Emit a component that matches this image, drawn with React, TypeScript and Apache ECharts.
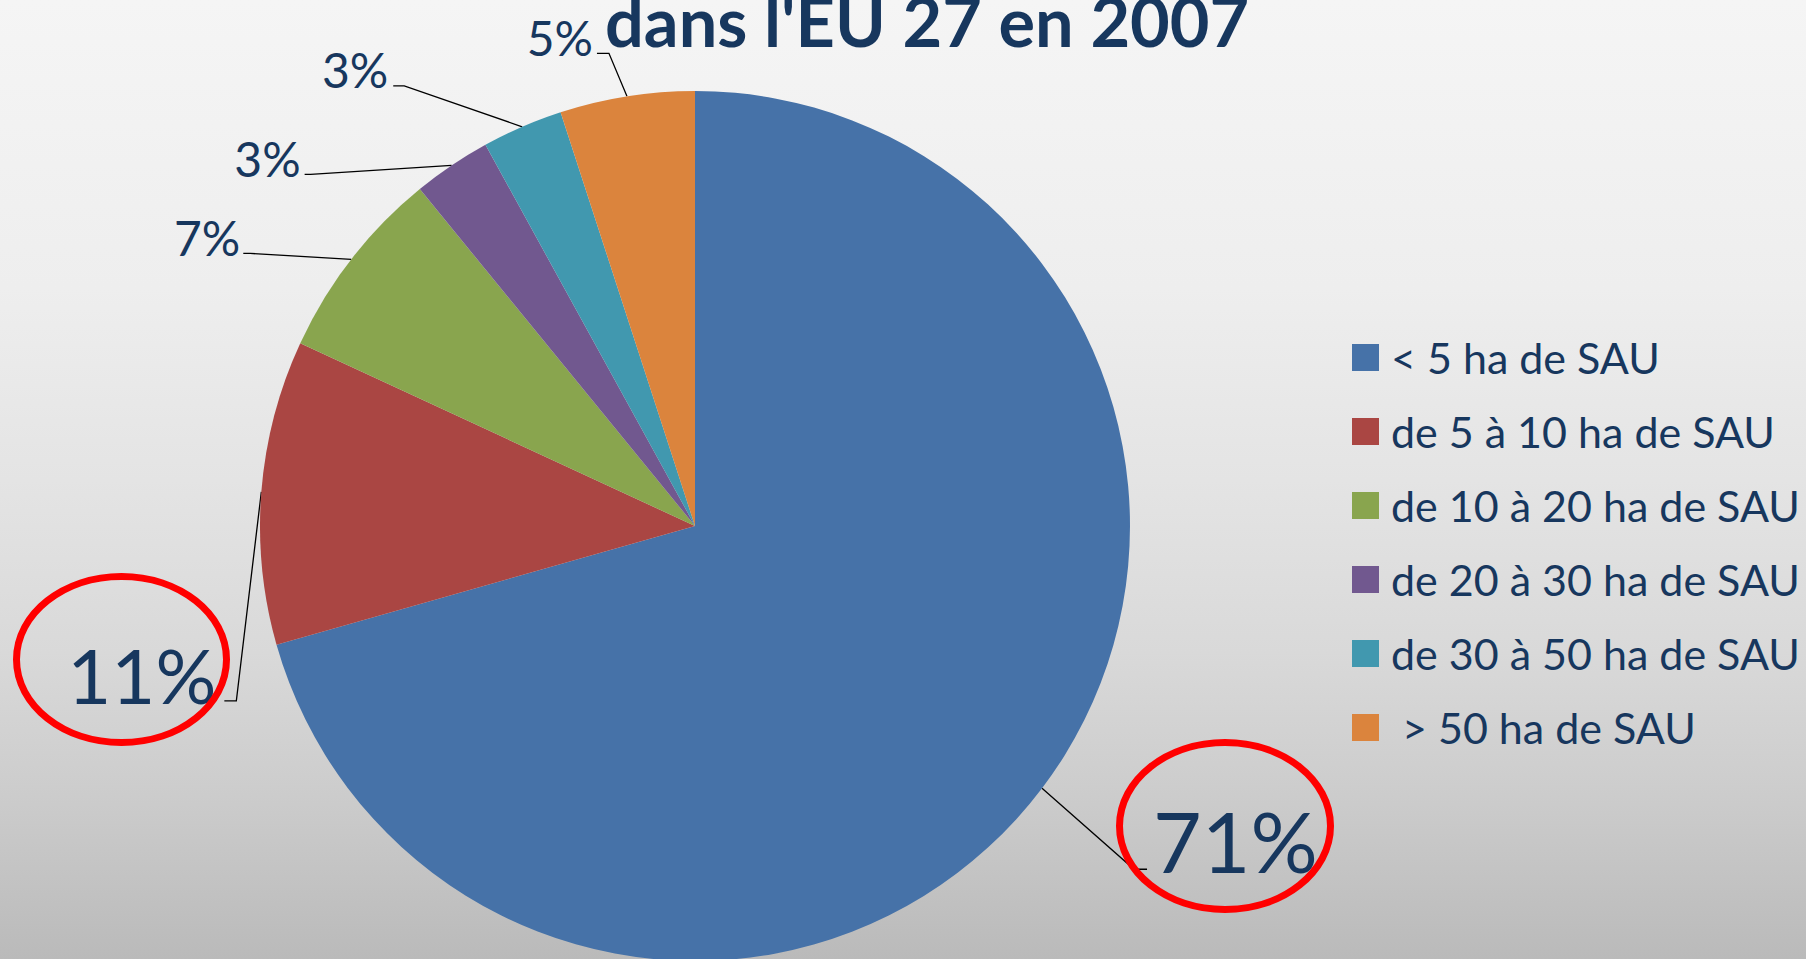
import React, { useEffect, useRef } from 'react';
import * as echarts from 'echarts';

// ---- data ----
const categories = [
  '< 5 ha de SAU',
  'de 5 à 10 ha de SAU',
  'de 10 à 20 ha de SAU',
  'de 20 à 30 ha de SAU',
  'de 30 à 50 ha de SAU',
  ' > 50 ha de SAU',
];
const shares = [70.6, 11.3, 7.2, 2.9, 3.0, 5.0];
const titleText = "dans l'EU 27 en 2007";

// ---- styles ----
const sliceColors = ['#4672A8', '#AA4643', '#89A54E', '#71588F', '#4198AF', '#DB843D'];
const labelFontSizes = [84, 76, 48, 48, 48, 48];
// leader line geometry, relative to the anchor ECharts computes on the slice edge
const leaderKnee = [[92, 81], [-25, 209], [-101, -6], [-141, 9], [-118, -41], [-18, -43]];
const leaderTail = [13, -12, -7, -6, -11, -12];
const labelGap = [6, 8, 3, 4, 5, 4];
const TEXT = '#17375E';
const FONT = 'Lato';

export default function App() {
  const ref = useRef<HTMLDivElement>(null);
  useEffect(() => {
    if (!ref.current) return;
    const chart = echarts.init(ref.current, null, { renderer: 'svg' });
    const data = categories.map((name, i) => ({
      name,
      value: shares[i],
      itemStyle: { color: sliceColors[i] },
      label: { fontSize: labelFontSizes[i] },
    }));
    chart.setOption({
      animation: false,
      backgroundColor: 'transparent',
      title: {
        text: titleText,
        left: 605,
        top: -14,
        padding: 0,
        textStyle: { fontFamily: FONT, fontWeight: 'bold', fontSize: 68.5, color: TEXT },
      },
      legend: {
        orient: 'vertical',
        left: 1352,
        top: 336,
        padding: 0,
        itemWidth: 27,
        itemHeight: 27,
        itemGap: 31,
        icon: 'rect',
        selectedMode: false,
        textStyle: {
          fontFamily: FONT,
          fontSize: 43,
          lineHeight: 42,
          color: TEXT,
          padding: [0, 0, 0, 7],
        },
        data: categories,
      },
      series: [
        {
          type: 'pie',
          center: [695, 526],
          radius: 435,
          startAngle: 90,
          clockwise: true,
          avoidLabelOverlap: false,
          silent: true,
          emphasis: { disabled: true },
          label: {
            show: true,
            position: 'outside',
            fontFamily: FONT,
            color: TEXT,
            formatter: (p: any) => Math.round(p.percent) + '%',
          },
          labelLine: {
            show: true,
            length: 10,
            length2: 10,
            smooth: false,
            lineStyle: { color: '#000', width: 1.3 },
          },
          labelLayout: (p: any) => {
            const i = p.dataIndex;
            const a = p.labelLinePoints[0];
            const k = [a[0] + leaderKnee[i][0], a[1] + leaderKnee[i][1]];
            const e = [k[0] + leaderTail[i], k[1]];
            const right = leaderTail[i] > 0;
            const fs = labelFontSizes[i];
            return {
              x: e[0] + (right ? labelGap[i] : -labelGap[i]),
              y: e[1] + 1 - 0.358 * fs,
              align: right ? 'left' : 'right',
              verticalAlign: 'middle',
              labelLinePoints: [a, k, e],
            };
          },
          data,
        },
      ],
      graphic: [
        {
          type: 'ellipse',
          shape: { cx: 1225, cy: 826, rx: 105.5, ry: 83.5 },
          style: { fill: 'none', stroke: '#FF0000', lineWidth: 7 },
          z: 100,
        },
        {
          type: 'ellipse',
          shape: { cx: 121.5, cy: 659.5, rx: 105, ry: 83 },
          style: { fill: 'none', stroke: '#FF0000', lineWidth: 7 },
          z: 100,
        },
      ],
    });
    return () => chart.dispose();
  }, []);
  return (
    <div
      ref={ref}
      style={{
        position: 'absolute',
        left: 0,
        top: 0,
        width: 1806,
        height: 959,
        background:
          'linear-gradient(to bottom, #f5f5f5 0%, #eeeeee 30%, #e4e4e4 50%, #d9d9d9 68%, #cdcdcd 82%, #bababa 100%)',
      }}
    />
  );
}
